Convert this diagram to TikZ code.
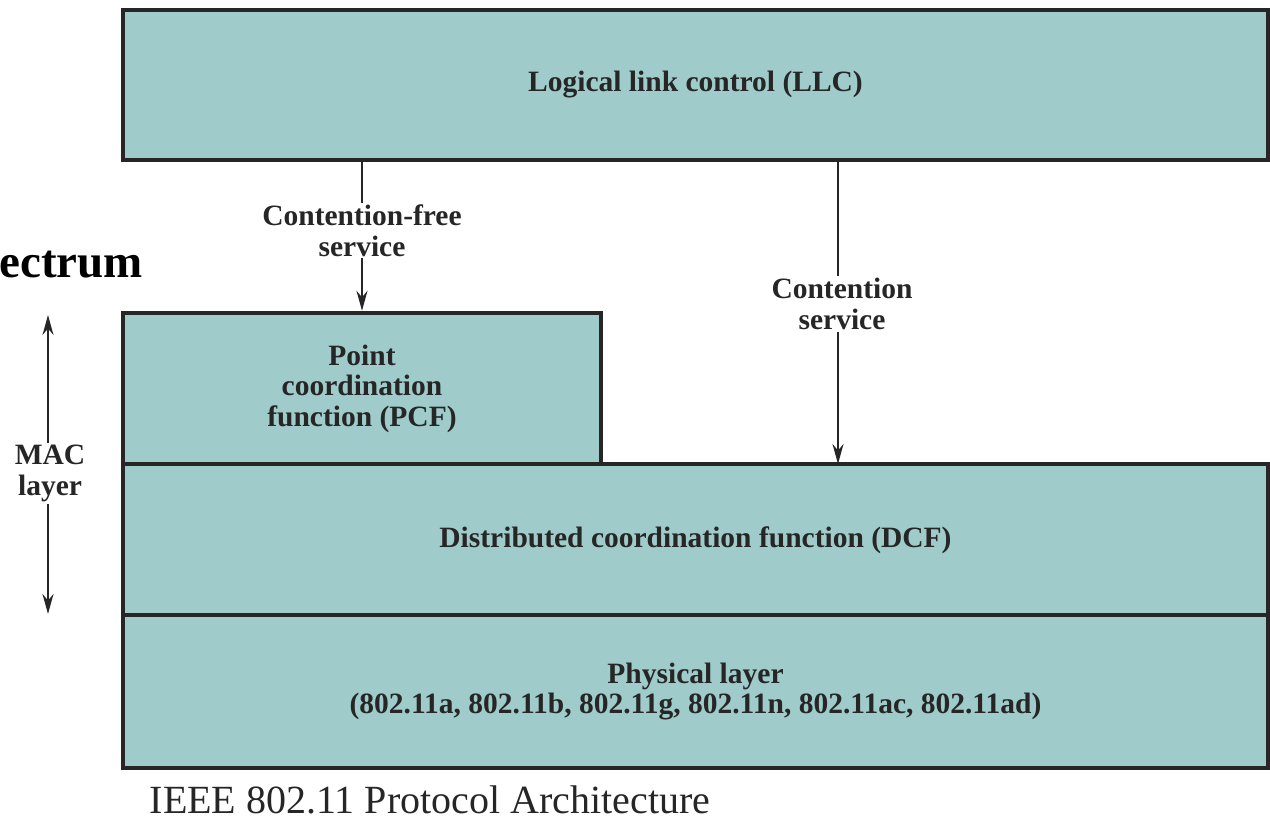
\documentclass[tikz,border=0pt]{standalone}
\usepackage{fontspec}
\setmainfont{Liberation Serif}
\usetikzlibrary{arrows.meta,positioning}
\definecolor{layer fill}{RGB}{160,203,203}
\colorlet{layer edge}{black!85}
\tikzset{layerbox/.style={draw=layer edge, fill=layer fill, line width=4.5pt, inner sep=0pt,
           font=\bfseries\fontsize{29.5}{30.5}\selectfont, align=center, text=black!85},
      service/.style={draw=black!85, line width=2pt, -{Stealth[length=20pt,width=11pt]}},
      servicelabel/.style={fill=white, inner sep=2pt, font=\bfseries\fontsize{29.5}{30.5}\selectfont,
           align=center, text=black!85}}

\begin{document}
\begin{tikzpicture}[x=1pt,y=-1pt]
\useasboundingbox (0,0) rectangle (1270,820);
    \node[layerbox, minimum width=1145pt, minimum height=150pt] (llc) at (695.5,85)
      {Logical link control (LLC)};
    \node[layerbox, minimum width=478pt, minimum height=151pt] (pcf) at (362,388.5)
      {Point\\coordination\\function (PCF)};
    \node[layerbox, minimum width=1145pt, minimum height=153pt] (dcf) at (695.5,540.5)
      {Distributed coordination function (DCF)};
    \node[layerbox, minimum width=1145pt, minimum height=153pt] (phy) at (695.5,691.5)
      {Physical layer\\(802.11a, 802.11b, 802.11g, 802.11n, 802.11ac, 802.11ad)};
    \coordinate (dcfin) at (838,464);
    \draw[service] (llc.south -| pcf.north) -- (pcf.north)
      node[servicelabel, pos=0.46] (cfree) {Contention-free\\service};
    \draw[service] (llc.south -| dcfin) -- (dcfin)
      node[servicelabel, pos=0.47, xshift=4pt] (cserv) {Contention\\service};
    % MAC layer span
    \coordinate (mactop) at (48,315);
    \coordinate (macbot) at (48,614);
    \draw[service, {Stealth[length=20pt,width=11pt]}-{Stealth[length=20pt,width=11pt]}] (mactop) -- (macbot)
      node[servicelabel, pos=0.53, xshift=2pt] (mac) {MAC\\layer};
    \node[anchor=base east, font=\bfseries\fontsize{47}{50}\selectfont, inner sep=0pt] (title) at (143,277) {ectrum};
    \node[font=\fontsize{40}{42}\selectfont, text=black!85, anchor=base, inner sep=0pt] (caption) at (430,813)
      {IEEE 802.11 Protocol Architecture};
\end{tikzpicture}
\end{document}
